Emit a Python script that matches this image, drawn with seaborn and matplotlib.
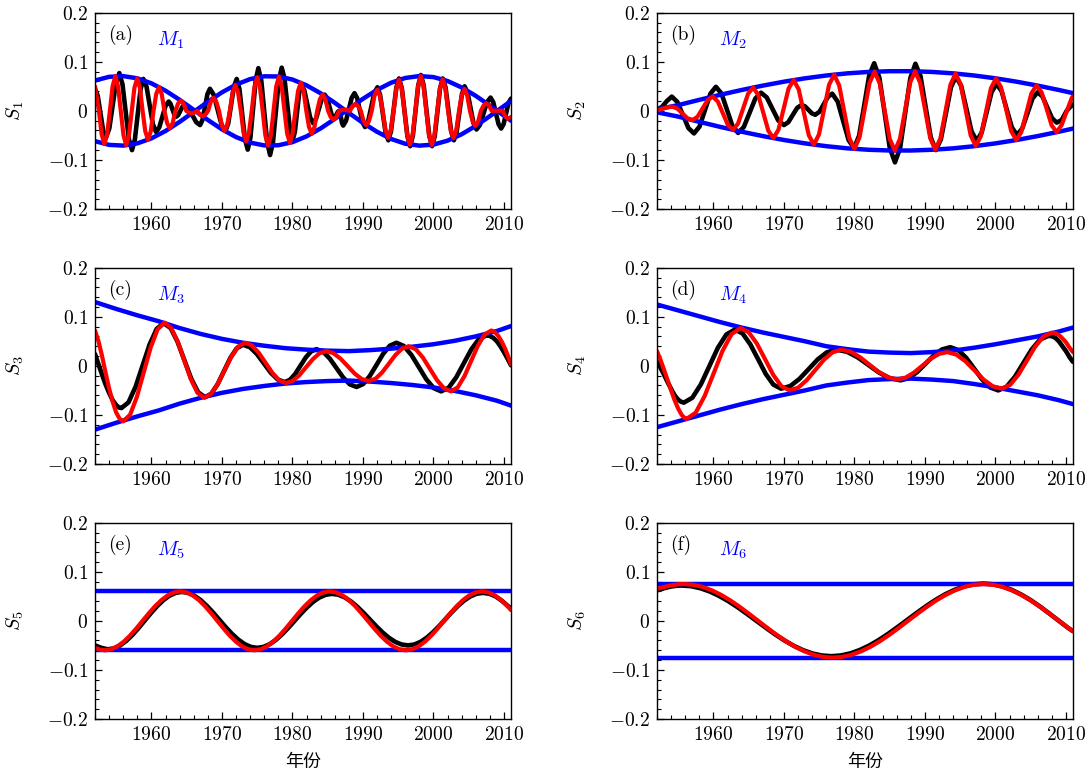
import matplotlib
matplotlib.use("Agg")
import matplotlib.pyplot as plt
from matplotlib.ticker import AutoMinorLocator
import seaborn as sns

# ---------------- data ----------------
# ---- Panel (a) ----
env_a_years = [1952, 1954, 1956, 1958, 1960, 1962, 1964, 1966, 1968, 1970, 1972, 1974, 1976, 1978, 1980,
               1982, 1984, 1986, 1988, 1990, 1992, 1994, 1996, 1998, 2000, 2002, 2004, 2006, 2008, 2010, 2011]
env_a = [0.0618, 0.0693, 0.0708, 0.0663, 0.0561, 0.0411, 0.0225, 0.0021, -0.0185, -0.0376, -0.0534, -0.0647,
         -0.0704, -0.0701, -0.0638, -0.0520, -0.0358, -0.0165, 0.0042, 0.0245, 0.0427, 0.0573, 0.0670, 0.0709,
         0.0688, 0.0608, 0.0477, 0.0306, 0.0108, -0.0098, -0.0200]
red_a_pts = [
    (1952.00, 0.050), (1952.56, 0),
    (1952.94, -0.0477), (1953.33, -0.0674), (1953.72, -0.0477), (1954.11, 0),
    (1954.49, 0.0500), (1954.88, 0.0707), (1955.27, 0.0500), (1955.66, 0),
    (1956.04, -0.0497), (1956.43, -0.0703), (1956.82, -0.0497), (1957.21, 0),
    (1957.59, 0.0469), (1957.98, 0.0663), (1958.37, 0.0469), (1958.75, 0),
    (1959.13, -0.0417), (1959.52, -0.0590), (1959.91, -0.0417), (1960.30, 0),
    (1960.68, 0.0343), (1961.07, 0.0485), (1961.46, 0.0343), (1961.85, 0),
    (1962.23, -0.0252), (1962.62, -0.0356), (1963.01, -0.0252), (1963.40, 0),
    (1963.78, 0.0148), (1964.17, 0.0209), (1964.56, 0.0148), (1964.94, 0),
    (1965.32, -0.0036), (1965.71, -0.0051), (1966.10, -0.0036), (1966.49, 0),
    (1966.87, -0.0078), (1967.26, -0.0110), (1967.65, -0.0078), (1968.04, 0),
    (1968.42, 0.0187), (1968.81, 0.0265), (1969.20, 0.0187), (1969.59, 0),
    (1969.97, -0.0288), (1970.36, -0.0407), (1970.75, -0.0288), (1971.13, 0),
    (1971.51, 0.0373), (1971.90, 0.0527), (1972.29, 0.0373), (1972.68, 0),
    (1973.06, -0.0439), (1973.45, -0.0621), (1973.84, -0.0439), (1974.23, 0),
    (1974.61, 0.0483), (1975.00, 0.0683), (1975.39, 0.0483), (1975.78, 0),
    (1976.16, -0.0501), (1976.55, -0.0709), (1976.94, -0.0501), (1977.32, 0),
    (1977.70, 0.0494), (1978.09, 0.0699), (1978.48, 0.0494), (1978.87, 0),
    (1979.25, -0.0462), (1979.64, -0.0653), (1980.03, -0.0462), (1980.42, 0),
    (1980.80, 0.0406), (1981.19, 0.0574), (1981.58, 0.0406), (1981.97, 0),
    (1982.35, -0.0329), (1982.74, -0.0465), (1983.13, -0.0329), (1983.51, 0),
    (1983.89, 0.0235), (1984.28, 0.0332), (1984.67, 0.0235), (1985.06, 0),
    (1985.44, -0.0129), (1985.83, -0.0182), (1986.22, -0.0129), (1986.61, 0),
    (1986.99, 0.0016), (1987.38, 0.0023), (1987.77, 0.0016), (1988.16, 0),
    (1988.54, 0.0098), (1988.93, 0.0138), (1989.32, 0.0098), (1989.70, 0),
    (1990.08, -0.0205), (1990.47, -0.0290), (1990.86, -0.0205), (1991.25, 0),
    (1991.63, 0.0303), (1992.02, 0.0429), (1992.41, 0.0303), (1992.80, 0),
    (1993.18, -0.0386), (1993.57, -0.0546), (1993.96, -0.0386), (1994.35, 0),
    (1994.73, 0.0448), (1995.12, 0.0634), (1995.51, 0.0448), (1995.89, 0),
    (1996.27, -0.0487), (1996.66, -0.0689), (1997.05, -0.0487), (1997.44, 0),
    (1997.82, 0.0502), (1998.21, 0.0710), (1998.60, 0.0502), (1998.99, 0),
    (1999.37, -0.0491), (1999.76, -0.0694), (2000.15, -0.0491), (2000.54, 0),
    (2000.92, 0.0454), (2001.31, 0.0642), (2001.70, 0.0454), (2002.08, 0),
    (2002.46, -0.0394), (2002.85, -0.0557), (2003.24, -0.0394), (2003.63, 0),
    (2004.01, 0.0313), (2004.40, 0.0443), (2004.79, 0.0313), (2005.18, 0),
    (2005.56, -0.0216), (2005.95, -0.0306), (2006.34, -0.0216), (2006.73, 0),
    (2007.11, 0.0108), (2007.50, 0.0153), (2007.89, 0.0108), (2008.27, 0),
    (2008.65, 0.0003), (2009.04, 0.0004), (2009.43, 0.0003), (2009.82, 0),
    (2010.20, -0.0115), (2010.59, -0.0163), (2011.00, -0.0125),
]
black_a_pts = [
    (1952.00, 0.045), (1952.39, 0.0304), (1952.78, -0.005), (1953.16, -0.0404), (1953.55, -0.055),
    (1954.03, -0.0358), (1954.50, 0.011), (1954.98, 0.0578), (1955.45, 0.077),
    (1955.90, 0.0541), (1956.35, -0.0015), (1956.80, -0.0571), (1957.25, -0.080),
    (1957.65, -0.0588), (1958.06, -0.0075), (1958.46, 0.0438), (1958.86, 0.065),
    (1959.31, 0.0492), (1959.76, 0.011), (1960.21, -0.0272), (1960.66, -0.043),
    (1961.11, -0.0339), (1961.56, -0.012), (1962.00, 0.0099), (1962.45, 0.019),
    (1962.71, 0.0144), (1962.98, 0.0035), (1963.24, -0.0074), (1963.50, -0.012),
    (1963.80, -0.0084), (1964.10, 0.0), (1964.40, 0.0084), (1964.70, 0.012),
    (1965.25, 0.0060), (1965.80, -0.0085), (1966.35, -0.0230), (1966.90, -0.029),
    (1967.25, -0.0182), (1967.60, 0.008), (1967.95, 0.0342), (1968.30, 0.045),
    (1968.85, 0.0324), (1969.40, 0.002), (1969.95, -0.0284), (1970.50, -0.041),
    (1970.90, -0.0255), (1971.30, 0.012), (1971.70, 0.0495), (1972.10, 0.065),
    (1972.49, 0.0440), (1972.88, -0.007), (1973.27, -0.0580), (1973.66, -0.079),
    (1974.04, -0.0548), (1974.42, 0.004), (1974.79, 0.0628), (1975.17, 0.087),
    (1975.59, 0.0612), (1976.00, -0.0015), (1976.42, -0.0642), (1976.83, -0.090),
    (1977.24, -0.0641), (1977.66, -0.001), (1978.07, 0.0621), (1978.48, 0.088),
    (1978.87, 0.0666), (1979.26, 0.0145), (1979.65, -0.0376), (1980.04, -0.059),
    (1980.35, -0.0427), (1980.66, -0.003), (1980.96, 0.0367), (1981.27, 0.053),
    (1981.69, 0.0416), (1982.10, 0.014), (1982.52, -0.0137), (1982.93, -0.025),
    (1983.34, -0.0166), (1983.76, 0.004), (1984.17, 0.0245), (1984.58, 0.033),
    (1984.91, 0.0260), (1985.24, 0.009), (1985.57, -0.0080), (1985.90, -0.015),
    (1986.08, -0.0128), (1986.25, -0.0075), (1986.43, -0.0022), (1986.60, 0.0),
    (1986.75, -0.0044), (1986.90, -0.015), (1987.05, -0.0256), (1987.20, -0.030),
    (1987.60, -0.0203), (1988.00, 0.003), (1988.40, 0.0263), (1988.80, 0.036),
    (1989.18, 0.0259), (1989.55, 0.0015), (1989.93, -0.0229), (1990.30, -0.033),
    (1990.74, -0.0212), (1991.18, 0.0075), (1991.61, 0.0362), (1992.05, 0.048),
    (1992.44, 0.0322), (1992.83, -0.006), (1993.21, -0.0442), (1993.60, -0.060),
    (1993.98, -0.0416), (1994.36, 0.003), (1994.74, 0.0476), (1995.12, 0.066),
    (1995.52, 0.0459), (1995.91, -0.003), (1996.31, -0.0519), (1996.70, -0.072),
    (1997.08, -0.0508), (1997.46, 0.0005), (1997.84, 0.0518), (1998.22, 0.073),
    (1998.62, 0.0518), (1999.01, 0.0005), (1999.41, -0.0508), (1999.80, -0.072),
    (2000.18, -0.0519), (2000.56, -0.003), (2000.94, 0.0459), (2001.32, 0.066),
    (2001.72, 0.0476), (2002.11, 0.003), (2002.51, -0.0416), (2002.90, -0.060),
    (2003.28, -0.0439), (2003.66, -0.005), (2004.04, 0.0339), (2004.42, 0.050),
    (2004.84, 0.0372), (2005.26, 0.006), (2005.68, -0.0252), (2006.10, -0.038),
    (2006.60, -0.0286), (2007.10, -0.0055), (2007.60, 0.0176), (2008.10, 0.027),
    (2008.48, 0.0178), (2008.85, -0.0045), (2009.23, -0.0268), (2009.60, -0.036),
    (2009.95, -0.0270), (2010.30, -0.0055), (2010.65, 0.0161), (2011.00, 0.025),
]

# ---- Panel (b) ----
env_b_years = [1952, 1955, 1958, 1961, 1964, 1967, 1970, 1973, 1976, 1979, 1982, 1985, 1988, 1991, 1994, 1997,
               2000, 2003, 2006, 2009, 2011]
env_b = [0.003, 0.0117, 0.0224, 0.0328, 0.0425, 0.0514, 0.0594, 0.0663, 0.0720, 0.0764, 0.0793, 0.0808, 0.0808,
         0.0793, 0.0764, 0.0720, 0.0663, 0.0594, 0.0514, 0.0425, 0.0361]
red_b_years = [1952.00, 1952.73, 1953.44, 1954.16, 1954.88, 1955.60, 1956.31, 1957.03, 1957.75, 1958.47, 1959.18,
               1959.90, 1960.62, 1961.34, 1962.05, 1962.77, 1963.49, 1964.21, 1964.92, 1965.64, 1966.36, 1967.08,
               1967.79, 1968.51, 1969.23, 1969.95, 1970.66, 1971.38, 1972.10, 1972.82, 1973.53, 1974.25, 1974.97,
               1975.69, 1976.40, 1977.12, 1977.84, 1978.56, 1979.27, 1979.99, 1980.71, 1981.43, 1982.14, 1982.86,
               1983.58, 1984.30, 1985.01, 1985.73, 1986.45, 1987.17, 1987.88, 1988.60, 1989.32, 1990.04, 1990.75,
               1991.47, 1992.19, 1992.91, 1993.62, 1994.34, 1995.06, 1995.78, 1996.49, 1997.21, 1997.93, 1998.65,
               1999.36, 2000.08, 2000.80, 2001.52, 2002.23, 2002.95, 2003.67, 2004.39, 2005.10, 2005.82, 2006.54,
               2007.26, 2007.97, 2008.69, 2009.41, 2010.13, 2010.84, 2011.00]
red_b = [0.0007, 0.0040, 0.0072, 0.0086, 0.0046, -0.0052, -0.0150, -0.0190, -0.0120, 0.0050, 0.0220, 0.0290,
         0.0191, -0.0048, -0.0287, -0.0386, -0.0260, 0.0045, 0.0349, 0.0475, 0.0325, -0.0041, -0.0405, -0.0556,
         -0.0383, 0.0036, 0.0455, 0.0628, 0.0436, -0.0031, -0.0497, -0.0689, -0.0481, 0.0025, 0.0530, 0.0738,
         0.0517, -0.0019, -0.0554, -0.0775, -0.0545, 0.0012, 0.0569, 0.0799, 0.0564, -0.0006, -0.0575, -0.0810,
         -0.0574, -0.0002, 0.0570, 0.0806, 0.0573, 0.0008, -0.0557, -0.0790, -0.0564, -0.0016, 0.0533, 0.0759,
         0.0544, 0.0021, -0.0502, -0.0717, -0.0516, -0.0028, 0.0461, 0.0662, 0.0478, 0.0034, -0.0411, -0.0595,
         -0.0432, -0.0038, 0.0356, 0.0519, 0.0380, 0.0043, -0.0295, -0.0434, -0.0283, 0.0000, 0.0269, 0.0295]
black_b_years = [1952.00, 1952.70, 1953.40, 1954.10, 1954.89, 1955.68, 1956.46, 1957.25, 1958.03, 1958.80,
                 1959.58, 1960.35, 1961.14, 1961.93, 1962.71, 1963.50, 1964.31, 1965.13, 1965.94, 1966.75,
                 1967.56, 1968.38, 1969.19, 1970.00, 1970.63, 1971.25, 1971.88, 1972.50, 1972.99, 1973.48,
                 1973.96, 1974.45, 1975.05, 1975.65, 1976.25, 1976.85, 1977.63, 1978.40, 1979.18, 1979.95,
                 1980.66, 1981.38, 1982.09, 1982.80, 1983.54, 1984.28, 1985.01, 1985.75, 1986.48, 1987.20,
                 1987.93, 1988.65, 1989.38, 1990.10, 1990.83, 1991.55, 1992.26, 1992.98, 1993.69, 1994.40,
                 1995.14, 1995.88, 1996.61, 1997.35, 1998.05, 1998.75, 1999.45, 2000.15, 2000.88, 2001.60,
                 2002.33, 2003.05, 2003.79, 2004.53, 2005.26, 2006.00, 2006.68, 2007.35, 2008.03, 2008.70,
                 2009.40, 2010.10, 2010.60, 2011.00]
black_b = [0.002, 0.008, 0.020, 0.029, 0.0181, -0.0085, -0.0351, -0.046, -0.0321, 0.0015,
           0.0351, 0.049, 0.0353, 0.002, -0.0313, -0.045, -0.0330, -0.004, 0.0250, 0.037,
           0.0274, 0.004, -0.0194, -0.029, -0.0230, -0.0085, 0.0060, 0.012, 0.0091, 0.002,
           -0.0051, -0.008, -0.0017, 0.0135, 0.0287, 0.035, 0.0188, -0.0205, -0.0598, -0.076,
           -0.0507, 0.0105, 0.0717, 0.097, 0.0675, -0.004, -0.0755, -0.105, -0.0757, -0.0045,
           0.0667, 0.096, 0.0703, 0.008, -0.0543, -0.080, -0.0581, -0.005, 0.0481, 0.070,
           0.0509, 0.0045, -0.0419, -0.061, -0.0441, -0.003, 0.0381, 0.055, 0.0398, 0.003,
           -0.0338, -0.049, -0.0363, -0.0055, 0.0253, 0.038, 0.0290, 0.007, -0.0150, -0.024,
           -0.0185, 0.000, 0.008, 0.013]

# ---- Panel (c) ----
env_cd_years = [1952, 1955, 1958, 1961, 1964, 1967, 1970, 1973, 1976, 1979, 1982, 1985, 1988, 1991, 1994, 1997,
                2000, 2003, 2006, 2009, 2011]
env_c = [0.130, 0.116, 0.103, 0.091, 0.077, 0.065, 0.055, 0.047, 0.041, 0.036, 0.033, 0.031, 0.030, 0.032, 0.035,
         0.039, 0.044, 0.051, 0.060, 0.071, 0.081]
red_c_pts = [
    (1952.0, 0.072), (1952.5, 0.050), (1953.0, 0.020), (1953.5, -0.014), (1954.0, -0.046), (1954.5, -0.073),
    (1955.0, -0.095), (1955.5, -0.108), (1956.00, -0.113),
    (1956.98, -0.0995), (1957.95, -0.0628), (1958.93, -0.0125), (1959.90, 0.0377), (1960.88, 0.0745), (1961.85, 0.088),
    (1962.78, 0.0777), (1963.72, 0.0497), (1964.65, 0.0115), (1965.58, -0.0268), (1966.52, -0.0547), (1967.45, -0.065),
    (1968.43, -0.0575), (1969.40, -0.0370), (1970.38, -0.009), (1971.35, 0.0190), (1972.33, 0.0395), (1973.30, 0.047),
    (1974.27, 0.0416), (1975.23, 0.0265), (1976.20, 0.006), (1977.17, -0.0145), (1978.13, -0.0296), (1979.10, -0.035),
    (1980.05, -0.0307), (1981.00, -0.0188), (1981.95, -0.0025), (1982.90, 0.0137), (1983.85, 0.0257), (1984.80, 0.030),
    (1985.81, 0.0259), (1986.82, 0.0147), (1987.83, -0.0005), (1988.83, -0.0158), (1989.84, -0.0269), (1990.85, -0.031),
    (1991.79, -0.0262), (1992.73, -0.0133), (1993.68, 0.0045), (1994.62, 0.0222), (1995.56, 0.0352), (1996.50, 0.040),
    (1997.50, 0.0338), (1998.50, 0.0170), (1999.50, -0.006), (2000.50, -0.0290), (2001.50, -0.0458), (2002.50, -0.052),
    (2003.45, -0.0437), (2004.40, -0.0210), (2005.35, 0.010), (2006.30, 0.0410), (2007.25, 0.0637), (2008.20, 0.072),
    (2008.7, 0.069), (2009.2, 0.061), (2009.7, 0.049), (2010.2, 0.034), (2010.6, 0.019), (2011.0, 0.003),
]
black_c_pts = [
    (1952.0, 0.024), (1952.5, 0.003), (1953.0, -0.018), (1953.5, -0.038), (1954.0, -0.055), (1954.5, -0.070),
    (1955.0, -0.080), (1955.4, -0.085), (1955.75, -0.086),
    (1956.75, -0.0744), (1957.75, -0.0427), (1958.75, 0.0005), (1959.75, 0.0438), (1960.75, 0.0754), (1961.75, 0.087),
    (1962.73, 0.0769), (1963.70, 0.0493), (1964.68, 0.0115), (1965.65, -0.0262), (1966.63, -0.0539), (1967.60, -0.064),
    (1968.50, -0.0568), (1969.40, -0.0372), (1970.30, -0.0105), (1971.20, 0.0163), (1972.10, 0.0358), (1973.00, 0.043),
    (1973.98, 0.0379), (1974.97, 0.0240), (1975.95, 0.005), (1976.93, -0.0140), (1977.92, -0.0279), (1978.90, -0.033),
    (1979.65, -0.0285), (1980.40, -0.0163), (1981.15, 0.0005), (1981.90, 0.0172), (1982.65, 0.0295), (1983.40, 0.034),
    (1984.35, 0.0288), (1985.30, 0.0147), (1986.25, -0.0045), (1987.20, -0.0238), (1988.15, -0.0378), (1989.10, -0.043),
    (1990.04, -0.0370), (1990.98, -0.0205), (1991.93, 0.002), (1992.87, 0.0245), (1993.81, 0.0410), (1994.75, 0.047),
    (1995.81, 0.0404), (1996.87, 0.0223), (1997.93, -0.0025), (1998.98, -0.0272), (2000.04, -0.0454), (2001.10, -0.052),
    (2002.17, -0.0443), (2003.23, -0.0235), (2004.30, 0.005), (2005.37, 0.0335), (2006.43, 0.0543), (2007.50, 0.062),
    (2008.0, 0.061), (2008.5, 0.057), (2009.0, 0.050), (2009.5, 0.040), (2010.0, 0.028), (2010.5, 0.015), (2011.0, 0.001),
]

# ---- Panel (d) ----
env_d = [0.125, 0.113, 0.101, 0.089, 0.078, 0.068, 0.059, 0.050, 0.040, 0.034, 0.029, 0.027, 0.026, 0.028, 0.031,
         0.037, 0.044, 0.052, 0.060, 0.070, 0.078]
red_d_pts = [
    (1952.0, 0.030), (1952.5, 0.012), (1953.0, -0.008), (1953.5, -0.029), (1954.0, -0.050), (1954.5, -0.070),
    (1955.0, -0.087), (1955.5, -0.100), (1955.9, -0.106), (1956.20, -0.108),
    (1957.48, -0.0956), (1958.75, -0.0617), (1960.03, -0.0155), (1961.30, 0.0308), (1962.58, 0.0646), (1963.85, 0.077),
    (1965.01, 0.0684), (1966.17, 0.0453), (1967.33, 0.0135), (1968.48, -0.0182), (1969.64, -0.0415), (1970.80, -0.050),
    (1972.02, -0.0445), (1973.23, -0.0292), (1974.45, -0.0085), (1975.67, 0.0123), (1976.88, 0.0274), (1978.10, 0.033),
    (1979.43, 0.0290), (1980.77, 0.0179), (1982.10, 0.0028), (1983.43, -0.0123), (1984.77, -0.0235), (1986.10, -0.0275),
    (1987.28, -0.0238), (1988.45, -0.0136), (1989.63, 0.0003), (1990.80, 0.0141), (1991.98, 0.0243), (1993.15, 0.028),
    (1994.44, 0.0230), (1995.73, 0.0094), (1997.03, -0.0093), (1998.32, -0.0279), (1999.61, -0.0415), (2000.90, -0.0465),
    (2002.08, -0.0389), (2003.27, -0.0180), (2004.45, 0.0105), (2005.63, 0.0390), (2006.82, 0.0599), (2008.00, 0.0675),
    (2008.5, 0.0668), (2009.0, 0.063), (2009.5, 0.056), (2010.0, 0.048), (2010.5, 0.037), (2011.0, 0.028),
]
black_d_pts = [
    (1952.0, 0.008), (1952.5, -0.004), (1953.0, -0.018), (1953.5, -0.033), (1954.0, -0.047), (1954.5, -0.060),
    (1955.0, -0.069), (1955.4, -0.073), (1955.80, -0.075),
    (1957.01, -0.0650), (1958.22, -0.0378), (1959.43, -0.0005), (1960.63, 0.0367), (1961.84, 0.0640), (1963.05, 0.074),
    (1964.14, 0.0659), (1965.23, 0.0439), (1966.33, 0.0138), (1967.42, -0.0164), (1968.51, -0.0384), (1969.60, -0.0465),
    (1970.90, -0.0412), (1972.20, -0.0266), (1973.50, -0.0068), (1974.80, 0.0132), (1976.10, 0.0277), (1977.40, 0.033),
    (1978.93, 0.0288), (1980.45, 0.0174), (1981.98, 0.0018), (1983.50, -0.0138), (1985.03, -0.0253), (1986.55, -0.0295),
    (1987.73, -0.0250), (1988.90, -0.0126), (1990.08, 0.0043), (1991.25, 0.0211), (1992.43, 0.0335), (1993.60, 0.038),
    (1994.73, 0.0321), (1995.87, 0.0160), (1997.00, -0.006), (1998.13, -0.0280), (1999.27, -0.0442), (2000.40, -0.050),
    (2001.58, -0.0426), (2002.77, -0.0222), (2003.95, 0.0055), (2005.13, 0.0333), (2006.32, 0.0535), (2007.50, 0.061),
    (2008.0, 0.0605), (2008.5, 0.057), (2009.0, 0.050), (2009.5, 0.040), (2010.0, 0.030), (2010.5, 0.018), (2011.0, 0.008),
]

# ---- Panel (e) ----
env_ef_years = [1952, 2011]
env_e = [0.060, 0.060]
red_e_pts = [
    (1952.0, -0.055), (1952.7, -0.0585), (1953.4, -0.060),
    (1954.29, -0.058), (1955.18, -0.052), (1956.08, -0.0424), (1956.97, -0.030), (1957.86, -0.0155), (1958.75, 0.0),
    (1959.64, 0.0155), (1960.53, 0.030), (1961.43, 0.0424), (1962.32, 0.052), (1963.21, 0.058), (1964.1, 0.060),
    (1964.98, 0.058), (1965.85, 0.052), (1966.73, 0.0424), (1967.60, 0.030), (1968.48, 0.0155), (1969.35, 0.0),
    (1970.23, -0.0155), (1971.10, -0.030), (1971.98, -0.0424), (1972.85, -0.052), (1973.73, -0.058), (1974.6, -0.060),
    (1975.49, -0.058), (1976.38, -0.052), (1977.28, -0.0424), (1978.17, -0.030), (1979.06, -0.0155), (1979.95, 0.0),
    (1980.84, 0.0155), (1981.73, 0.030), (1982.63, 0.0424), (1983.52, 0.052), (1984.41, 0.058), (1985.3, 0.060),
    (1986.2, 0.058), (1987.1, 0.052), (1988.0, 0.0424), (1988.9, 0.030), (1989.8, 0.0155), (1990.7, 0.0),
    (1991.6, -0.0155), (1992.5, -0.030), (1993.4, -0.0424), (1994.3, -0.052), (1995.2, -0.058), (1996.1, -0.060),
    (1997.0, -0.058), (1997.9, -0.052), (1998.8, -0.0424), (1999.7, -0.030), (2000.6, -0.0155), (2001.5, 0.0),
    (2002.4, 0.0155), (2003.3, 0.030), (2004.2, 0.0424), (2005.1, 0.052), (2006.0, 0.058), (2006.9, 0.060),
    (2007.8, 0.058), (2008.7, 0.052), (2009.6, 0.0424), (2010.5, 0.030), (2011.0, 0.022),
]
black_e_pts = [
    (1952.0, -0.050), (1952.9, -0.055), (1953.8, -0.058),
    (1954.68, -0.0560), (1955.55, -0.0502), (1956.43, -0.0409), (1957.30, -0.0288), (1958.18, -0.0147), (1959.05, 0.0005),
    (1959.93, 0.0157), (1960.80, 0.0298), (1961.68, 0.0419), (1962.55, 0.0512), (1963.43, 0.0570), (1964.3, 0.059),
    (1965.19, 0.0571), (1966.08, 0.0514), (1966.98, 0.0423), (1967.87, 0.0305), (1968.76, 0.0168), (1969.65, 0.002),
    (1970.54, -0.0128), (1971.43, -0.0265), (1972.33, -0.0383), (1973.22, -0.0474), (1974.11, -0.0531), (1975.0, -0.055),
    (1975.88, -0.0531), (1976.77, -0.0476), (1977.65, -0.0389), (1978.53, -0.0275), (1979.42, -0.0142), (1980.30, 0.0),
    (1981.18, 0.0142), (1982.07, 0.0275), (1982.95, 0.0389), (1983.83, 0.0476), (1984.72, 0.0531), (1985.6, 0.055),
    (1986.5, 0.0532), (1987.4, 0.0480), (1988.3, 0.0396), (1989.2, 0.0288), (1990.1, 0.0161), (1991.0, 0.0025),
    (1991.9, -0.0111), (1992.8, -0.0238), (1993.7, -0.0346), (1994.6, -0.0430), (1995.5, -0.0482), (1996.4, -0.050),
    (1997.28, -0.0482), (1998.17, -0.0428), (1999.05, -0.0343), (1999.93, -0.0233), (2000.82, -0.0104), (2001.70, 0.0035),
    (2002.58, 0.0174), (2003.47, 0.0303), (2004.35, 0.0413), (2005.23, 0.0498), (2006.12, 0.0552), (2007.0, 0.057),
    (2007.9, 0.0553), (2008.8, 0.050), (2009.7, 0.041), (2010.5, 0.031), (2011.0, 0.025),
]

# ---- Panel (f) ----
env_f = [0.075, 0.075]
red_f_pts = [
    (1952.0, 0.065), (1953.0, 0.069), (1954.0, 0.0723), (1954.9, 0.0743), (1955.8, 0.075),
    (1957.12, 0.0736), (1958.44, 0.0693), (1959.76, 0.0623), (1961.08, 0.0530), (1962.39, 0.0417),
    (1963.71, 0.0287), (1965.03, 0.0146), (1966.35, 0.0), (1967.67, -0.0146), (1968.99, -0.0287),
    (1970.31, -0.0417), (1971.63, -0.0530), (1972.94, -0.0623), (1974.26, -0.0693), (1975.58, -0.0736),
    (1976.9, -0.075),
    (1978.24, -0.0736), (1979.58, -0.0693), (1980.91, -0.0623), (1982.25, -0.0530), (1983.59, -0.0417),
    (1984.93, -0.0287), (1986.26, -0.0146), (1987.60, 0.0), (1988.94, 0.0146), (1990.28, 0.0287),
    (1991.61, 0.0417), (1992.95, 0.0530), (1994.29, 0.0623), (1995.63, 0.0693), (1996.96, 0.0736),
    (1998.3, 0.075),
    (1999.64, 0.0736), (2000.98, 0.0693), (2002.31, 0.0623), (2003.65, 0.0530), (2004.99, 0.0417),
    (2006.33, 0.0287), (2007.66, 0.0146), (2009.0, 0.0), (2010.34, -0.0146), (2011.0, -0.021),
]
black_f_pts = [
    (1952.0, 0.062), (1953.0, 0.0665), (1954.0, 0.0700), (1954.8, 0.0715), (1955.5, 0.072),
    (1956.83, 0.0706), (1958.15, 0.0665), (1959.48, 0.0598), (1960.80, 0.0509), (1962.13, 0.0400),
    (1963.45, 0.0276), (1964.78, 0.0140), (1966.10, 0.0), (1967.43, -0.0140), (1968.75, -0.0276),
    (1970.08, -0.0400), (1971.40, -0.0509), (1972.73, -0.0598), (1974.05, -0.0665), (1975.38, -0.0706),
    (1976.7, -0.072),
    (1978.05, -0.0706), (1979.40, -0.0664), (1980.75, -0.0595), (1982.10, -0.0503), (1983.45, -0.0391),
    (1984.80, -0.0263), (1986.15, -0.0124), (1987.50, 0.002), (1988.85, 0.0164), (1990.20, 0.0303),
    (1991.55, 0.0431), (1992.90, 0.0543), (1994.25, 0.0635), (1995.60, 0.0704), (1996.95, 0.0746),
    (1998.3, 0.076),
    (1999.64, 0.0746), (2000.98, 0.0702), (2002.31, 0.0632), (2003.65, 0.0537), (2004.99, 0.0423),
    (2006.33, 0.0291), (2007.66, 0.0148), (2009.0, 0.0), (2010.34, -0.0148), (2011.0, -0.021),
]

panel_tags = ["(a)", "(b)", "(c)", "(d)", "(e)", "(f)"]
mode_names = [r"$M_1$", r"$M_2$", r"$M_3$", r"$M_4$", r"$M_5$", r"$M_6$"]
y_names = [r"$S_1$", r"$S_2$", r"$S_3$", r"$S_4$", r"$S_5$", r"$S_6$"]
xtick_vals = [1960, 1970, 1980, 1990, 2000, 2010]
xtick_labels = [r"$1960$", r"$1970$", r"$1980$", r"$1990$", r"$2000$", r"$2010$"]
ytick_vals = [-0.2, -0.1, 0.0, 0.1, 0.2]
ytick_labels = [r"$-0.2$", r"$-0.1$", r"$0$", r"$0.1$", r"$0.2$"]
x_label = "年份"


def unzip(pts):
    return [p[0] for p in pts], [p[1] for p in pts]


ra_x, ra_y = unzip(red_a_pts)
ba_x, ba_y = unzip(black_a_pts)
rc_x, rc_y = unzip(red_c_pts)
bc_x, bc_y = unzip(black_c_pts)
rd_x, rd_y = unzip(red_d_pts)
bd_x, bd_y = unzip(black_d_pts)
re_x, re_y = unzip(red_e_pts)
be_x, be_y = unzip(black_e_pts)
rf_x, rf_y = unzip(red_f_pts)
bf_x, bf_y = unzip(black_f_pts)

panels = [
    (ba_x, ba_y, env_a_years, env_a, ra_x, ra_y),
    (black_b_years, black_b, env_b_years, env_b, red_b_years, red_b),
    (bc_x, bc_y, env_cd_years, env_c, rc_x, rc_y),
    (bd_x, bd_y, env_cd_years, env_d, rd_x, rd_y),
    (be_x, be_y, env_ef_years, env_e, re_x, re_y),
    (bf_x, bf_y, env_ef_years, env_f, rf_x, rf_y),
]

# ---------------- style ----------------
sns.set_theme(style="ticks")
plt.rcParams.update({
    "font.family": ["cmr10", "DejaVu Serif"],
    "mathtext.fontset": "cm",
    "axes.formatter.use_mathtext": True,
    "axes.linewidth": 1.0,
    "axes.edgecolor": "black",
    "xtick.color": "black",
    "ytick.color": "black",
    "text.color": "black",
    "axes.labelcolor": "black",
})

W, H = 1091, 778
fig = plt.figure(figsize=(W / 100, H / 100), dpi=100)
col_left = [95, 657]
row_top = [12.7, 267.7, 522.7]
aw, ah = 416, 196.3

BLUE = "#0000ff"
RED = "#ff0000"

for i, (bx, by, ex, ey, rx, ry) in enumerate(panels):
    r, c = divmod(i, 2)
    ax = fig.add_axes([col_left[c] / W, 1 - (row_top[r] + ah) / H, aw / W, ah / H])
    sns.lineplot(x=bx, y=by, ax=ax, color="black", linewidth=3.3, sort=False, estimator=None,
                 solid_joinstyle="round", solid_capstyle="round")
    sns.lineplot(x=ex, y=ey, ax=ax, color=BLUE, linewidth=3.2, sort=False, estimator=None)
    sns.lineplot(x=ex, y=[-v for v in ey], ax=ax, color=BLUE, linewidth=3.2, sort=False, estimator=None)
    sns.lineplot(x=rx, y=ry, ax=ax, color=RED, linewidth=3.0, sort=False, estimator=None,
                 solid_joinstyle="round", solid_capstyle="round")

    ax.set_xlim(1952, 2011)
    ax.set_ylim(-0.2, 0.2)
    ax.set_xticks(xtick_vals)
    ax.set_xticklabels(xtick_labels)
    ax.set_yticks(ytick_vals)
    ax.set_yticklabels(ytick_labels)
    ax.xaxis.set_minor_locator(AutoMinorLocator(5))
    ax.yaxis.set_minor_locator(AutoMinorLocator(5))
    ax.tick_params(which="both", direction="in", top=False, right=False, labelsize=14, pad=5)
    ax.tick_params(which="major", length=5, width=0.9)
    ax.tick_params(which="minor", length=2.6, width=0.8)
    for sp in ax.spines.values():
        sp.set_visible(True)
        sp.set_linewidth(1.0)
        sp.set_color("black")

    ax.set_ylabel(y_names[i], fontsize=14.5)
    ax.yaxis.set_label_coords(-0.165, 0.5)
    if r == 2:
        ax.set_xlabel(x_label, fontsize=13, fontfamily=["Noto Sans CJK SC", "DejaVu Sans"])
        ax.xaxis.set_label_coords(0.5, -0.175)
    else:
        ax.set_xlabel("")

    ax.text(0.031, 0.885, panel_tags[i], transform=ax.transAxes, fontsize=14,
            ha="left", va="center")
    ax.text(0.148, 0.862, mode_names[i], transform=ax.transAxes, fontsize=14.5,
            ha="left", va="center", color=BLUE)

fig.savefig("out.png", dpi=100)
